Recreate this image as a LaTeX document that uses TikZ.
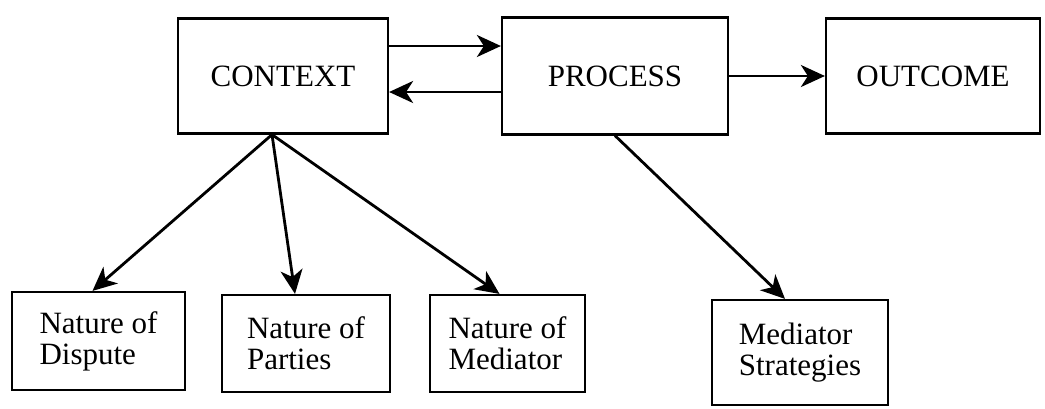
\documentclass[tikz,border=0pt]{standalone}
\usepackage{fontspec}
\setmainfont{Liberation Serif}
\usetikzlibrary{arrows.meta}

\begin{document}
\begin{tikzpicture}[x=0.5pt, y=-0.5pt,
    every node/.style={font=\fontsize{15.5}{15.5}\selectfont},
    bigbox/.style={draw, line width=1.1pt, inner sep=0pt},
    smallbox/.style={draw, line width=1.1pt, inner sep=0pt, align=left},
    flow/.style={line width=1.4pt, -{Stealth[length=12pt, width=11pt, inset=3.5pt]}}]
  \useasboundingbox (0, 0) rectangle (1045, 408);
  \node[bigbox, minimum width=105pt, minimum height=57.5pt] (context) at (283, 76) {CONTEXT};
  \node[bigbox, minimum width=113pt, minimum height=58.5pt] (process) at (615, 76) {PROCESS};
  \node[bigbox, minimum width=107pt, minimum height=57.5pt] (outcome) at (933, 76) {OUTCOME};
  \node[smallbox, minimum width=86.5pt, minimum height=49pt] (dispute) at (98.5, 341) {Nature of\\Dispute};
  \node[smallbox, minimum width=84pt, minimum height=48.5pt] (parties) at (306, 343.5) {Nature of\\Parties};
  \node[smallbox, minimum width=77.5pt, minimum height=48.5pt] (mediator) at (507.5, 343.5) {Nature of\\Mediator};
  \node[smallbox, minimum width=88pt, minimum height=52.5pt] (strategies) at (800, 352.5) {Mediator\\Strategies};
  \draw[flow] ([yshift=15pt]context.east) -- ([yshift=15pt]process.west);
  \draw[flow] ([yshift=-8pt]process.west) -- ([yshift=-8pt]context.east);
  \draw[flow] (process) -- (outcome);
  \draw[flow] ([xshift=-5.5pt]context.south) -- ([xshift=-3pt]dispute.north);
  \draw[flow] ([xshift=-5.5pt]context.south) -- ([xshift=-5.5pt]parties.north);
  \draw[flow] ([xshift=-5.5pt]context.south) -- ([xshift=-4pt]mediator.north);
  \draw[flow] (process.south) -- ([xshift=-7.5pt]strategies.north);
\end{tikzpicture}
\end{document}
